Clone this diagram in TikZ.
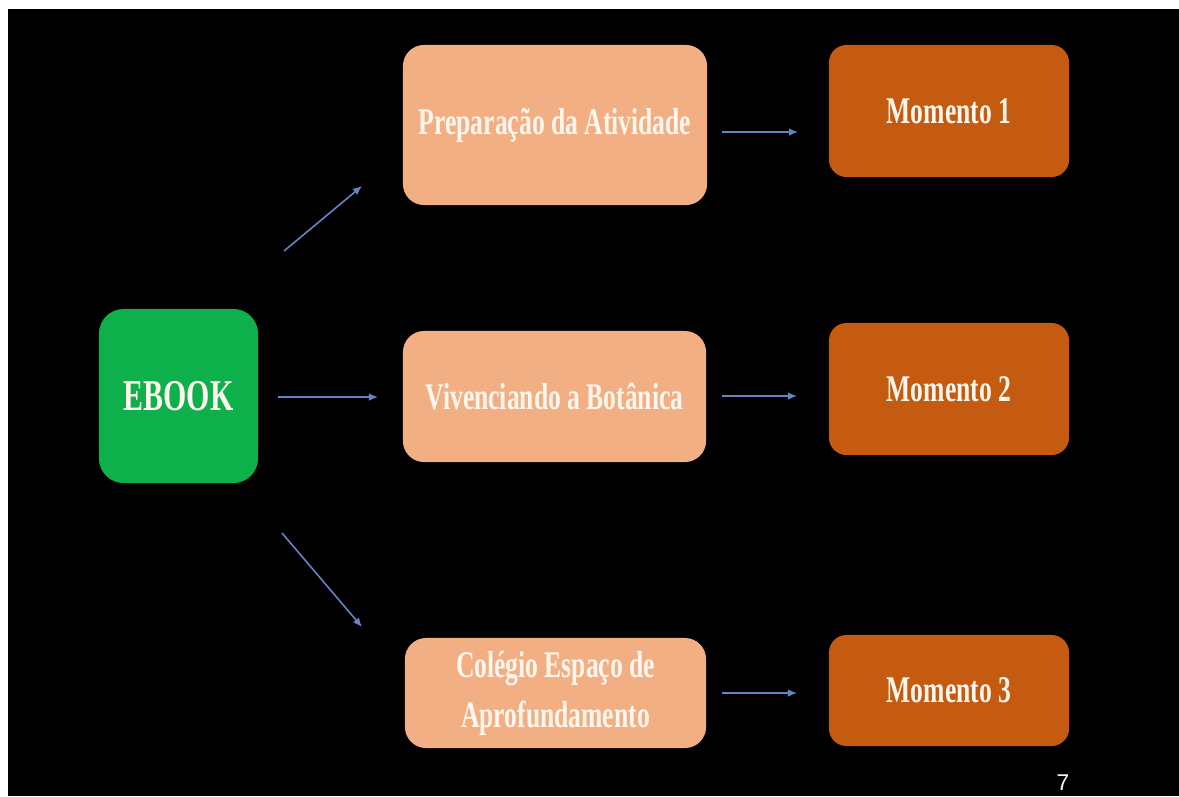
\documentclass[tikz,border=0pt]{standalone}
\usepackage{fontspec}
\setmainfont{Liberation Serif}[FakeStretch=0.68]
\newfontfamily\pagefont{Liberation Sans}
\usetikzlibrary{arrows.meta}

\begin{document}
\begin{tikzpicture}[x=0.01cm,y=-0.01cm,
  box/.style={rounded corners=6pt,inner sep=0pt,align=center,text=cream,
    font=\bfseries\fontsize{10.7}{14.2}\selectfont},
  link/.style={draw=linkblue,line width=0.45pt,-{Latex[length=2.6pt,width=2.2pt]}}]
\definecolor{cream}{HTML}{FFF7EE} \definecolor{linkblue}{HTML}{6584C8}
\definecolor{leaf}{HTML}{0DB04B} \definecolor{peach}{HTML}{F2AF84}
\definecolor{rust}{HTML}{C55A11}
\fill[white] (0,0) rectangle (1179,796);
\fill[black] (8,9) rectangle (1179,796);
\useasboundingbox (0,0) rectangle (1179,796);
% boxes
\node[box,fill=leaf,minimum width=1.59cm,minimum height=1.74cm,rounded corners=7pt,
  font=\bfseries\fontsize{12.5}{15}\selectfont] (ebook) at (178.5,396) {EBOOK};
\node[box,fill=peach,minimum width=3.04cm,minimum height=1.60cm] (prep) at (555,125) {Preparação da Atividade};
\node[box,fill=peach,minimum width=3.03cm,minimum height=1.31cm] (viv) at (554.5,396.5) {Vivenciando a Botânica};
\node[box,fill=peach,minimum width=3.01cm,minimum height=1.10cm] (col) at (555.5,693) {Colégio Espaço de\\Aprofundamento};
\foreach \i/\y/\h in {1/111/1.32,2/389/1.32,3/690.5/1.11}
  \node[box,fill=rust,minimum width=2.40cm,minimum height=\h cm,rounded corners=5pt,
    font=\bfseries\fontsize{10.7}{12}\selectfont] (mom\i) at (949,\y) {Momento \i};
% arrows
\coordinate (ebook-up) at (284,251); \coordinate (prep-in) at (362,186);
\coordinate (ebook-mid) at (278,397); \coordinate (viv-in) at (378,397);
\coordinate (ebook-down) at (282,533); \coordinate (col-in) at (362,627);
\coordinate (prep-out) at (722,132); \coordinate (mom1-in) at (798,132);
\coordinate (viv-out) at (722,396); \coordinate (mom2-in) at (797,396);
\coordinate (col-out) at (722,693); \coordinate (mom3-in) at (797,693);
\draw[link] (ebook-up) -- (prep-in);
\draw[link] (ebook-mid) -- (viv-in);
\draw[link] (ebook-down) -- (col-in);
\foreach \a/\b in {prep/1,viv/2,col/3}
  \draw[link] (\a-out) -- (mom\b-in);
\node[font=\pagefont\fontsize{6.5}{8}\selectfont,text=white!92!gray,anchor=north,inner sep=0pt] (page) at (1063,774) {7};
\end{tikzpicture}
\end{document}
